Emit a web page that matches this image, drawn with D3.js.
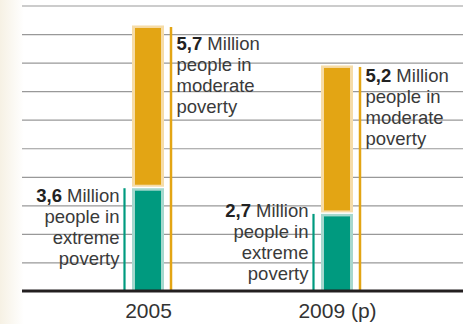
<!DOCTYPE html>
<html>
<head>
<meta charset="utf-8">
<script src="https://cdn.jsdelivr.net/npm/d3@7"></script>
<style>
  html, body { margin: 0; padding: 0; background: #fff; }
  svg { display: block; font-family: "Liberation Sans", Arial, sans-serif; }
</style>
</head>
<body>
<svg id="chart" width="469" height="324"></svg>
<script>
// Data (million people)
const years = ["2005", "2009 (p)"];
const extreme = [3.6, 2.7];
const moderate = [5.7, 5.2];
const yTicks = [0, 1, 2, 3, 4, 5, 6, 7, 8, 9, 10];

// Label layout (first baseline offset from the segment top)
const moderateDy = [25, 16.5];
const extremeDy = [14, 3];

const orange = "#e3a514", orangeLight = "#f6dca8";
const green = "#009a7f", greenLight = "#a6d8ce";

const svg = d3.select("#chart");

// faint cream wash on the left edge
const defs = svg.append("defs");
const grad = defs.append("linearGradient").attr("id", "wash");
grad.append("stop").attr("offset", "0%").attr("stop-color", "#f6f1e4");
grad.append("stop").attr("offset", "100%").attr("stop-color", "#ffffff");
svg.append("rect").attr("x", 0).attr("y", 0).attr("width", 24).attr("height", 324)
  .attr("fill", "url(#wash)");

// Scales
const left = 22, right = 463;
const y = d3.scaleLinear().domain([0, 10]).range([291, 5.5]);
const x = d3.scalePoint().domain(years).range([148, 337]);
const barW = 32;

// Gridlines
const grid = svg.append("g")
  .attr("transform", `translate(${left},0)`)
  .call(d3.axisRight(y).tickValues(yTicks.slice(1)).tickSize(right - left).tickFormat(""));
grid.select(".domain").remove();
grid.selectAll(".tick line").attr("stroke", "#999").attr("stroke-width", 1.2);

const rows = years.map((yr, i) => ({
  year: yr, ext: extreme[i], mod: moderate[i], total: extreme[i] + moderate[i], i: i
}));

const bars = svg.append("g");

// moderate segment (stacked on top of extreme)
bars.selectAll(".modOuter").data(rows).join("rect")
  .attr("x", d => x(d.year) - barW / 2)
  .attr("y", d => y(d.total))
  .attr("width", barW)
  .attr("height", d => y(d.ext) - y(d.total) - 1.5)
  .attr("fill", orangeLight);
bars.selectAll(".modInner").data(rows).join("rect")
  .attr("x", d => x(d.year) - barW / 2 + 3)
  .attr("y", d => y(d.total) + 2.5)
  .attr("width", barW - 6)
  .attr("height", d => y(d.ext) - y(d.total) - 6)
  .attr("fill", orange);

// extreme segment
bars.selectAll(".extOuter").data(rows).join("rect")
  .attr("x", d => x(d.year) - barW / 2)
  .attr("y", d => y(d.ext))
  .attr("width", barW)
  .attr("height", d => y(0) - y(d.ext))
  .attr("fill", greenLight);
bars.selectAll(".extInner").data(rows).join("rect")
  .attr("x", d => x(d.year) - barW / 2 + 3)
  .attr("y", d => y(d.ext) + 2.5)
  .attr("width", barW - 6)
  .attr("height", d => y(0) - y(d.ext) - 2.5)
  .attr("fill", green);

// leader lines
bars.selectAll(".modLine").data(rows).join("line")
  .attr("x1", d => x(d.year) + 23).attr("x2", d => x(d.year) + 23)
  .attr("y1", d => y(d.total) + 1.5).attr("y2", y(0))
  .attr("stroke", orange).attr("stroke-width", 2.5);
bars.selectAll(".extLine").data(rows).join("line")
  .attr("x1", d => x(d.year) - 23.5).attr("x2", d => x(d.year) - 23.5)
  .attr("y1", d => y(d.ext)).attr("y2", y(0))
  .attr("stroke", green).attr("stroke-width", 2.2);

const fmt = v => String(v.toFixed(1)).replace(".", ",");
const lineH = 21;

// one text element per line so the boxes stay apart
function label(g, lines, value, xPos, yPos, anchor) {
  const first = g.append("text")
    .attr("x", xPos).attr("y", yPos)
    .attr("text-anchor", anchor)
    .attr("font-size", 18.5)
    .attr("fill", "#3a3a3a");
  first.append("tspan").attr("font-weight", "bold").attr("fill", "#222").text(fmt(value));
  first.append("tspan").text(" Million");
  lines.forEach((s, k) => {
    g.append("text")
      .attr("x", xPos).attr("y", yPos + lineH * (k + 1))
      .attr("text-anchor", anchor)
      .attr("font-size", 18.5)
      .attr("fill", "#3a3a3a")
      .text(s);
  });
}

const labels = svg.append("g");
rows.forEach(d => {
  label(labels, ["people in", "moderate", "poverty"], d.mod,
    x(d.year) + 28.5, y(d.total) + moderateDy[d.i], "start");
  label(labels, ["people in", "extreme", "poverty"], d.ext,
    x(d.year) - 28.5, y(d.ext) + extremeDy[d.i], "end");
});

// Baseline + x axis labels
svg.append("line")
  .attr("x1", left).attr("x2", right)
  .attr("y1", y(0)).attr("y2", y(0))
  .attr("stroke", "#231f20").attr("stroke-width", 3);

const xAxis = svg.append("g")
  .attr("transform", `translate(0,${y(0)})`)
  .call(d3.axisBottom(x).tickSize(0).tickPadding(12));
xAxis.select(".domain").remove();
xAxis.selectAll("text")
  .attr("font-family", "'Liberation Sans', Arial, sans-serif")
  .attr("font-size", 21)
  .attr("fill", "#333");
</script>
</body>
</html>
